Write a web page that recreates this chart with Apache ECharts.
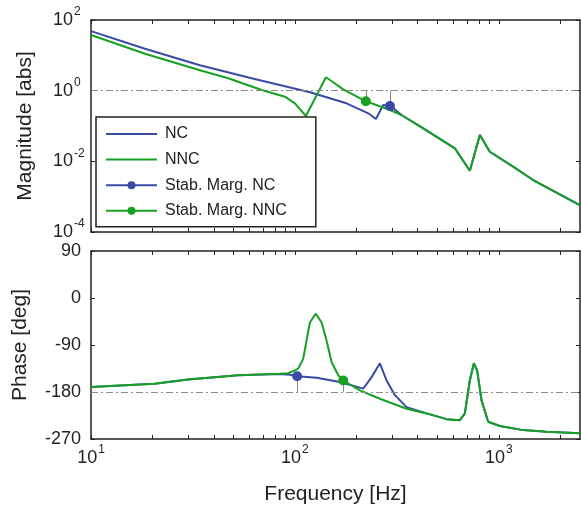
<!DOCTYPE html>
<html>
<head>
<meta charset="utf-8">
<script src="https://cdn.jsdelivr.net/npm/echarts@6/dist/echarts.min.js"></script>
<style>
  html, body { margin: 0; padding: 0; background: #fff; }
  #chart { width: 581px; height: 514px; }
</style>
</head>
<body>
<div id="chart"></div>
<script>
// Bode plot of the loop transfer: NC vs NNC, with stability-margin markers.

// Magnitude (abs) of NC
const ncMagFreq = [10, 18.4, 34.2, 61.3, 118.4, 179, 229, 249.5, 271, 292.3, 310, 333, 426, 608.5, 720.7, 807, 903, 1175, 1473, 2495];
const ncMag     = [48.5, 15.4, 5.22, 2.24, 0.899, 0.439, 0.229, 0.158, 0.393, 0.368, 0.29, 0.205, 0.0861, 0.0234, 0.00543, 0.0556, 0.0187, 0.00705, 0.00296, 0.00058];

// Magnitude (abs) of NNC
const nncMagFreq = [10, 18.4, 34.2, 47.1, 68.7, 89.3, 100, 113.2, 141.9, 148.5, 172.5, 222.8, 292.3, 333, 426, 608.5, 720.7, 807, 903, 1175, 1473, 2495];
const nncMag     = [37.5, 11.1, 3.77, 2.24, 1.045, 0.675, 0.438, 0.192, 2.39, 2.00, 1.09, 0.5, 0.284, 0.205, 0.0861, 0.0234, 0.00543, 0.0556, 0.0187, 0.00705, 0.00296, 0.00058];

// Phase (deg) of NC
const ncPhaseFreq = [10, 20.5, 29.9, 52.6, 84.4, 95, 102.6, 127.8, 166.2, 216.2, 237.7, 261.1, 281.5, 309.3, 352.8, 442.2, 554, 643.8, 681.3, 720.7, 754.3, 782.8, 822.6, 886.2, 1011, 1315, 1713, 2495];
const ncPhase     = [-170.5, -164, -156, -148, -145.5, -147, -150, -152.6, -161, -173.5, -151.5, -125, -158, -186, -209, -221, -232, -234, -221, -158, -125, -139, -196, -237, -245, -253, -256, -259];

// Phase (deg) of NNC
const nncPhaseFreq = [10, 20.5, 29.9, 52.6, 84.4, 92.4, 99.7, 103.8, 109.8, 118.4, 126.3, 135.2, 143, 151.4, 163.1, 172.5, 208.3, 261.1, 352.8, 442.2, 554, 643.8, 681.3, 720.7, 754.3, 782.8, 822.6, 886.2, 1011, 1315, 1713, 2495];
const nncPhase     = [-170.5, -164, -156, -148, -145, -144, -139, -135, -116.5, -47, -30, -47, -82, -123, -148, -158, -177, -193, -212, -221, -232, -234, -221, -158, -125, -139, -196, -237, -245, -253, -256, -259];

// Stability-margin points [frequency, value]
const stabMagNC   = [292.3, 0.368];
const stabMagNNC  = [222.8, 0.5];
const stabPhaseNC  = [102.6, -150];
const stabPhaseNNC = [172.5, -158];

// Axis ticks
const freqTicks  = [10, 20, 30, 40, 50, 60, 70, 80, 90, 100, 200, 300, 400, 500, 600, 700, 800, 900, 1000, 2000];
const freqLabels = [10, 100, 1000];
const magTicks   = [1e-4, 1e-2, 1, 1e2];

const legendNames = ['NC', 'NNC', 'Stab. Marg. NC', 'Stab. Marg. NNC'];

const BLUE = '#3a4ba6';
const GREEN = '#17a122';
const FRAME = '#222';
const REF = '#8a8a8a';
const FONT = 'Liberation Sans';

const zip = (xs, ys) => xs.map((x, i) => [x, ys[i]]);
const supLabel = v => '{b|10}{s|' + Math.round(Math.log10(v)) + '}';

const supRich = {
  b: { fontSize: 18, fontFamily: FONT, lineHeight: 28, color: '#222' },
  s: { fontSize: 12, fontFamily: FONT, lineHeight: 12, verticalAlign: 'top', color: '#222', padding: [0, 0, 0, 1] }
};

function frameLine() {
  return { show: true, onZero: false, lineStyle: { color: FRAME, width: 1.5 } };
}

function freqAxis(gridIndex, position, withLabels) {
  return {
    type: 'log', logBase: 10, gridIndex, position, min: 10, max: 2500,
    axisLine: frameLine(),
    axisTick: { show: true, inside: true, length: 4, customValues: freqTicks, lineStyle: { color: FRAME, width: 1 } },
    axisLabel: withLabels ? {
      show: true, margin: 5, customValues: freqLabels, formatter: supLabel, rich: supRich
    } : { show: false },
    splitLine: { show: false },
    minorTick: { show: false },
    name: withLabels ? 'Frequency [Hz]' : '',
    nameLocation: 'middle', nameGap: 45,
    nameTextStyle: { fontSize: 21, fontFamily: FONT, color: '#222' }
  };
}

function magAxis(position, withLabels) {
  return {
    type: 'log', logBase: 10, gridIndex: 0, position, min: 1e-4, max: 1e2,
    axisLine: frameLine(),
    axisTick: { show: true, inside: true, length: 4, customValues: magTicks, lineStyle: { color: FRAME, width: 1 } },
    axisLabel: withLabels ? {
      show: true, margin: 38, customValues: magTicks, formatter: supLabel, align: 'left', rich: supRich
    } : { show: false },
    splitLine: { show: false },
    name: withLabels ? 'Magnitude [abs]' : '',
    nameLocation: 'middle', nameGap: 55, nameRotate: 90,
    nameTextStyle: { fontSize: 21, fontFamily: FONT, color: '#222' }
  };
}

function phaseAxis(position, withLabels) {
  return {
    type: 'value', gridIndex: 1, position, min: -270, max: 90, interval: 90,
    axisLine: frameLine(),
    axisTick: { show: true, inside: true, length: 4, lineStyle: { color: FRAME, width: 1 } },
    axisLabel: withLabels ? { show: true, margin: 10, fontSize: 18, fontFamily: FONT, color: '#222' } : { show: false },
    splitLine: { show: false },
    name: withLabels ? 'Phase [deg]' : '',
    nameLocation: 'middle', nameGap: 60, nameRotate: 90,
    nameTextStyle: { fontSize: 21, fontFamily: FONT, color: '#222' }
  };
}

function refLine(value) {
  return {
    silent: true, symbol: ['none', 'none'], label: { show: false },
    lineStyle: { color: REF, width: 1, type: [7, 3, 2, 3] },
    data: [{ yAxis: value }]
  };
}

function stem(point, base) {
  return {
    silent: true, symbol: ['none', 'none'], label: { show: false },
    lineStyle: { color: REF, width: 1, type: 'solid' },
    data: [[{ coord: [point[0], base] }, { coord: [point[0], point[1]] }]]
  };
}

function curve(name, color, xi, yi, data, mark) {
  const s = {
    name, type: 'line', xAxisIndex: xi, yAxisIndex: yi, data,
    symbol: 'none', smooth: false,
    lineStyle: { color, width: 2 }, itemStyle: { color }
  };
  if (mark) s.markLine = mark;
  return s;
}

function marker(name, color, xi, yi, point, base) {
  return {
    name, type: 'line', xAxisIndex: xi, yAxisIndex: yi, data: [point],
    symbol: 'circle', symbolSize: 10, showSymbol: true, z: 5,
    lineStyle: { color, width: 1 }, itemStyle: { color },
    markLine: stem(point, base)
  };
}

const option = {
  animation: false,
  backgroundColor: '#fff',
  textStyle: { fontFamily: FONT },
  grid: [
    { left: 91, top: 20, width: 489, height: 212, containLabel: false, outerBoundsMode: 'none' },
    { left: 91, top: 251, width: 489, height: 188, containLabel: false, outerBoundsMode: 'none' }
  ],
  legend: {
    data: [
      { name: legendNames[0], itemStyle: { opacity: 0 } },
      { name: legendNames[1], itemStyle: { opacity: 0 } },
      { name: legendNames[2] },
      { name: legendNames[3] }
    ],
    orient: 'vertical', left: 96, top: 117,
    itemWidth: 51, itemHeight: 10, itemGap: 9.6,
    padding: [9, 29, 8, 9],
    backgroundColor: '#fff', borderColor: FRAME, borderWidth: 1.5,
    textStyle: { fontSize: 16, fontFamily: FONT, color: '#222', padding: [0, 0, 0, 3] },
    z: 20
  },
  xAxis: [
    freqAxis(0, 'bottom', false),
    freqAxis(0, 'top', false),
    freqAxis(1, 'bottom', true),
    freqAxis(1, 'top', false)
  ],
  yAxis: [
    magAxis('left', true),
    magAxis('right', false),
    phaseAxis('left', true),
    phaseAxis('right', false)
  ],
  series: [
    curve('NC', BLUE, 0, 0, zip(ncMagFreq, ncMag), refLine(1)),
    curve('NNC', GREEN, 0, 0, zip(nncMagFreq, nncMag)),
    marker('Stab. Marg. NC', BLUE, 0, 0, stabMagNC, 1),
    marker('Stab. Marg. NNC', GREEN, 0, 0, stabMagNNC, 1),
    curve('NC', BLUE, 2, 2, zip(ncPhaseFreq, ncPhase), refLine(-180)),
    curve('NNC', GREEN, 2, 2, zip(nncPhaseFreq, nncPhase)),
    marker('Stab. Marg. NC', BLUE, 2, 2, stabPhaseNC, -180),
    marker('Stab. Marg. NNC', GREEN, 2, 2, stabPhaseNNC, -180)
  ]
};

const chart = echarts.init(document.getElementById('chart'), null, { renderer: 'canvas' });
chart.setOption(option);
</script>
</body>
</html>
